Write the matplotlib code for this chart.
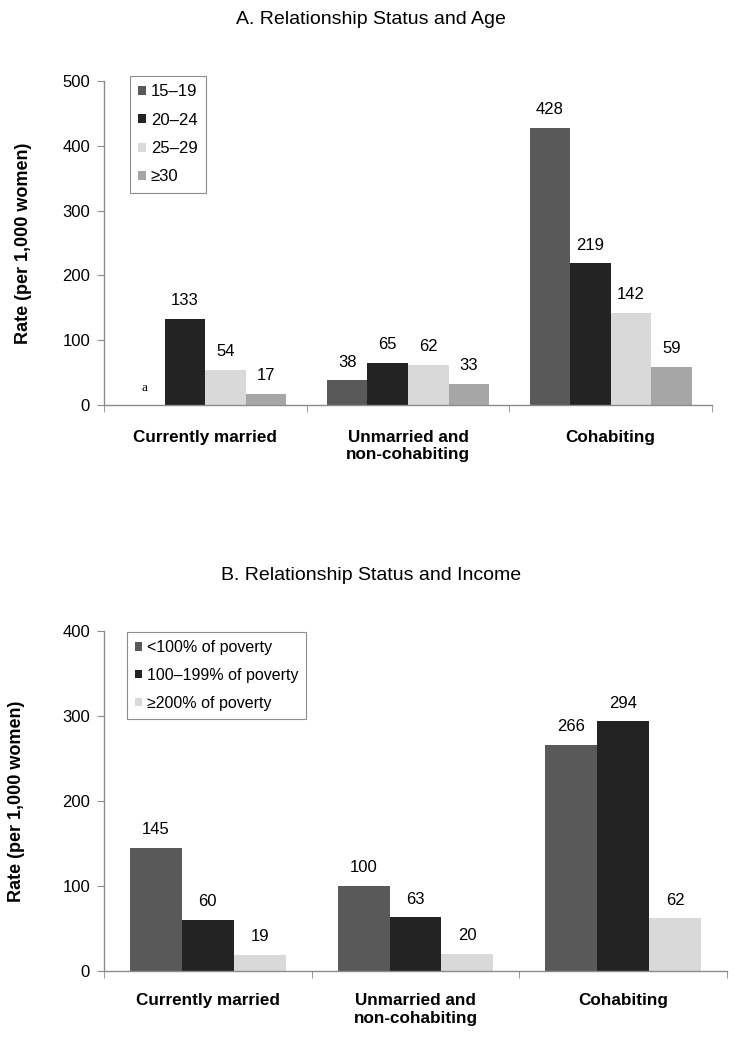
import matplotlib
matplotlib.use('Agg')
import matplotlib.pyplot as plt
import numpy as np

plt.rcParams['font.family'] = ['Liberation Sans', 'DejaVu Sans']

categories = ['Currently married', 'Unmarried and\nnon-cohabiting', 'Cohabiting']

# panel A: relationship status and age
age_groups = ['15–19', '20–24', '25–29', '≥30']
age_15_19 = [0, 38, 428]      # married value suppressed ("a")
age_20_24 = [133, 65, 219]
age_25_29 = [54, 62, 142]
age_30_up = [17, 33, 59]
age_colors = ['#595959', '#232323', '#d9d9d9', '#a6a6a6']

# panel B: relationship status and income
income_groups = ['<100% of poverty', '100–199% of poverty', '≥200% of poverty']
inc_lt100 = [145, 100, 266]
inc_100_199 = [60, 63, 294]
inc_ge200 = [19, 20, 62]
income_colors = ['#595959', '#232323', '#d9d9d9']

W, H = 735, 1037
fig = plt.figure(figsize=(W / 100, H / 100), dpi=100)

spine_col = '#8c8c8c'


def draw_panel(ax, series, names, colors, group_w, ymax, ystep, pad, suppressed=None):
    n = len(series)
    bw = group_w / n
    x = np.arange(len(categories))
    for i, (vals, name, col) in enumerate(zip(series, names, colors)):
        pos = x - group_w / 2 + bw * (i + 0.5)
        bars = ax.bar(pos, vals, bw, color=col, label=name, linewidth=0)
        for j, (b, v) in enumerate(zip(bars, vals)):
            if suppressed is not None and (i, j) == suppressed:
                ax.annotate('a', (b.get_x() + b.get_width() / 2, v),
                            xytext=(0, 12), textcoords='offset points',
                            ha='center', va='center', fontsize=9.5,
                            family='Liberation Serif')
            else:
                ax.annotate(str(v), (b.get_x() + b.get_width() / 2, v),
                            xytext=(0, 13), textcoords='offset points',
                            ha='center', va='center', fontsize=12)
    ax.set_xlim(-0.5, len(categories) - 0.5)
    ax.set_ylim(0, ymax)
    ax.set_yticks(np.arange(0, ymax + 1, ystep))
    ax.set_xticks(x)
    ax.set_xticklabels(categories, fontweight='bold', fontsize=12.3, va='top')
    ax.set_xticks(np.arange(-0.5, len(categories)), minor=True)
    ax.tick_params(axis='x', which='major', length=0, pad=pad)
    ax.tick_params(axis='x', which='minor', length=5, color=spine_col, direction='out')
    ax.tick_params(axis='y', length=5, color=spine_col, labelsize=12, pad=5)
    for s in ['top', 'right']:
        ax.spines[s].set_visible(False)
    for s in ['left', 'bottom']:
        ax.spines[s].set_color(spine_col)
        ax.spines[s].set_linewidth(1.0)


def px_axes(l, r, top, bottom):
    return fig.add_axes([l / W, 1 - bottom / H, (r - l) / W, (bottom - top) / H])


def add_legend(ax, anchor, fs):
    leg = ax.legend(loc='upper left', bbox_to_anchor=anchor, borderaxespad=0,
                    fontsize=fs, handlelength=0.45, handleheight=0.45,
                    handletextpad=0.3, labelspacing=0.8, borderpad=0.5,
                    fancybox=False, edgecolor=spine_col, framealpha=1)
    leg.get_frame().set_linewidth(0.8)
    return leg


axA = px_axes(104, 712, 81, 405)
draw_panel(axA, [age_15_19, age_20_24, age_25_29, age_30_up], age_groups,
           age_colors, 0.8, 500, 100, pad=18, suppressed=(0, 0))
add_legend(axA, (26 / 608, 1 + 5 / 324), 12)

axB = px_axes(104, 727, 631, 971)
draw_panel(axB, [inc_lt100, inc_100_199, inc_ge200], income_groups,
           income_colors, 0.75, 400, 100, pad=16)
add_legend(axB, (23 / 623, 1 - 1 / 340), 11.5)

fig.text(371 / W, 1 - 20 / H, 'A. Relationship Status and Age',
         ha='center', va='center', fontsize=14)
fig.text(371 / W, 1 - 575 / H, 'B. Relationship Status and Income',
         ha='center', va='center', fontsize=14)
fig.text(23 / W, 1 - 243 / H, 'Rate (per 1,000 women)', rotation=90,
         ha='center', va='center', fontsize=13, fontweight='bold')
fig.text(17 / W, 1 - 801 / H, 'Rate (per 1,000 women)', rotation=90,
         ha='center', va='center', fontsize=13, fontweight='bold')

fig.savefig('out.png', dpi=100)
